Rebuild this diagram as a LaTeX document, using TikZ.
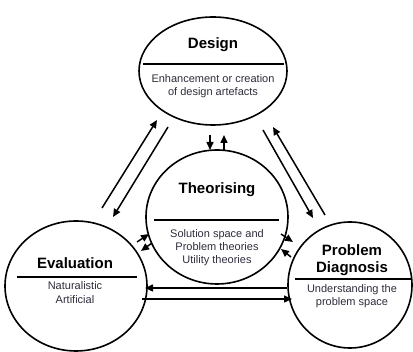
\documentclass[tikz,border=0pt]{standalone}
\usepackage{fontspec}
\setmainfont{Liberation Sans}
\usetikzlibrary{arrows.meta,shapes.geometric}
\definecolor{subgray}{RGB}{45,45,60}
\begin{document}
\begin{tikzpicture}[x=1pt,y=-1pt,
  bubble/.style={draw,line width=1.6pt,ellipse,inner sep=0pt},
  divider/.style={line width=2.4pt},
  titletext/.style={font=\bfseries\fontsize{15}{16.5}\selectfont,align=center,inner sep=0pt},
  subtext/.style={font=\fontsize{11}{12.8}\selectfont,text=subgray,align=center,inner sep=0pt},
  conn/.style={line width=1.5pt,-{Triangle[length=8pt,width=7pt]}}]
\useasboundingbox (0,0) rectangle (413,352);
% bubbles
\node[bubble,minimum width=148pt,minimum height=108pt] (design) at (213,71) {};
\node[bubble,minimum width=142pt,minimum height=134pt] (theo) at (217,217) {};
\node[bubble,minimum width=142pt,minimum height=130pt] (eval) at (76,286) {};
\node[bubble,minimum width=124pt,minimum height=126pt] (diag) at (350,285) {};
% dividers
\draw[divider] (143,64) -- (284,64);
\draw[divider] (154,220) -- (279,220);
\draw[divider] (17,277) -- (137,277);
\draw[divider] (295,279) -- (412,279);
% texts
\node[titletext] (designT) at (213,45) {Design};
\node[subtext] (designS) at (213,86) {Enhancement or creation\\of design artefacts};
\node[titletext] (theoT) at (217,190) {Theorising};
\node[subtext] (theoS) at (217,247.5) {Solution space and\\Problem theories\\Utility theories};
\node[titletext] (evalT) at (75,263) {Evaluation};
\node[subtext] (evalS) at (75,293) {Naturalistic\\[1.2pt]Artificial};
\node[titletext] (diagT) at (352,260) {Problem\\Diagnosis};
\node[subtext] (diagS) at (352,296.5) {Understanding the\\problem space};
% connector end points
\coordinate (a1s) at (102,208); \coordinate (a1e) at (157,120);
\coordinate (a2s) at (168,127); \coordinate (a2e) at (113,217);
\coordinate (b1s) at (325,215); \coordinate (b1e) at (273,127);
\coordinate (b2s) at (263,130); \coordinate (b2e) at (313,218);
\coordinate (c1s) at (287,288); \coordinate (c1e) at (145,288);
\coordinate (c2s) at (142,299); \coordinate (c2e) at (292,299);
\coordinate (d1s) at (210,135); \coordinate (d1e) at (210,150);
\coordinate (d2s) at (224,150); \coordinate (d2e) at (224,135);
\coordinate (e1s) at (137,242); \coordinate (e1e) at (149,234);
\coordinate (e2s) at (152,243); \coordinate (e2e) at (141,251);
\coordinate (f1s) at (281,234); \coordinate (f1e) at (293,242);
\coordinate (f2s) at (291,257); \coordinate (f2e) at (281,249);
% connectors
\foreach \n in {a1,a2,b1,b2,c1,c2,d1,d2,e1,e2,f1,f2}
  \draw[conn] (\n s) -- (\n e);
\end{tikzpicture}
\end{document}
